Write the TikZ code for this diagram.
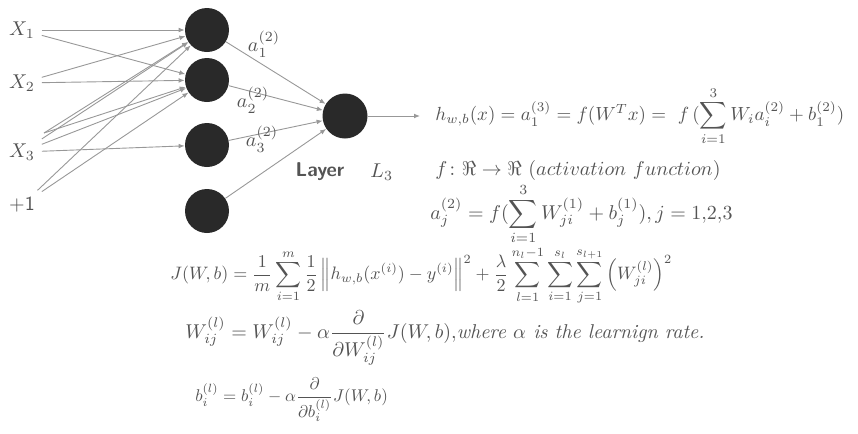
\documentclass[tikz,border=0pt]{standalone}
\usepackage{amsmath,amssymb}
\usepackage{tikz}
\usetikzlibrary{arrows.meta, positioning}
\definecolor{ink}{gray}{0.33}
\definecolor{cell}{gray}{0.16}

\begin{document}
\begin{tikzpicture}[x=0.5pt,y=-0.5pt,
    neuron/.style={circle,fill=cell,minimum size=22pt,inner sep=0pt},
    wire/.style={draw=ink!60,line width=0.45pt,-{Latex[length=3pt,width=2.4pt]}},
    eqn/.style={anchor=west,text=ink,inner sep=0pt}]
  \useasboundingbox (0,0) rectangle (858,434);
  % inputs
  \node[text=ink] (x1) at (22,30) {$X_1$};
  \node[text=ink] (x2) at (22,83) {$X_2$};
  \node[text=ink] (x3) at (22,152) {$X_3$};
  \node[text=ink] (b1) at (22,205) {\sffamily +1};
  % hidden layer
  \node[neuron] (h1) at (207,30) {};
  \node[neuron] (h2) at (207,80) {};
  \node[neuron] (h3) at (207,145) {};
  \node[neuron] (h4) at (207,211) {};
  % output
  \node[neuron,minimum size=22.5pt] (out) at (345,116) {};
  \coordinate (y) at (420,116);
  \coordinate (x3a) at (44,133);

  \foreach \s/\t in {x1/h1,x1/h2,x2/h1,x2/h2,x3/h1,x3/h2,x3/h3,x3a/h1,x3a/h2,b1/h1,b1/h2}
    \draw[wire] (\s) -- (\t);
  \foreach \h in {h1,h2,h3,h4}
    \draw[wire] (\h) -- (out);
  \draw[wire] (out) -- (y);

  \node[text=ink] at (264,44) {$a_1^{(2)}$};
  \node[text=ink] at (253,100) {$a_2^{(2)}$};
  \node[text=ink] at (262,139) {$a_3^{(2)}$};
  \node[text=ink] (lay) at (320,172) {\sffamily\bfseries Layer};
  \node[text=ink,right=6pt of lay] {$L_3$};

  % formulas
  \node[eqn,scale=0.95] (e1) at (435,116) {$\displaystyle h_{w,b}(x)=a_1^{(3)}=f(W^Tx)=\ f\,(\sum_{i=1}^{3}W_ia_i^{(2)}+b_1^{(2)})$};
  \node[eqn] (e2) at (435,170) {$f\colon\Re\to\Re\ (activation\ function)$};
  \node[eqn] (e3) at (430,214) {$\displaystyle a_j^{(2)}=f(\sum_{i=1}^{3}W_{ji}^{(1)}+b_j^{(1)}),j=1{,}2{,}3$};
  \node[eqn,scale=0.9] (e4) at (170,276) {$\displaystyle J(W,b)=\frac{1}{m}\sum_{i=1}^{m}\frac{1}{2}\left\|h_{w,b}(x^{(i)})-y^{(i)}\right\|^2+\frac{\lambda}{2}\sum_{l=1}^{n_l-1}\sum_{i=1}^{s_l}\sum_{j=1}^{s_{l+1}}\left(W_{ji}^{(l)}\right)^2$};
  \node[eqn] (e5) at (185,338) {$\displaystyle W_{ij}^{(l)}=W_{ij}^{(l)}-\alpha\frac{\partial}{\partial W_{ij}^{(l)}}J(W,b),$\textit{where $\alpha$ is the learnign rate.}};
  \node[eqn,scale=0.85] (e6) at (195,400) {$\displaystyle b_i^{(l)}=b_i^{(l)}-\alpha\frac{\partial}{\partial b_i^{(l)}}J(W,b)$};
\end{tikzpicture}
\end{document}
